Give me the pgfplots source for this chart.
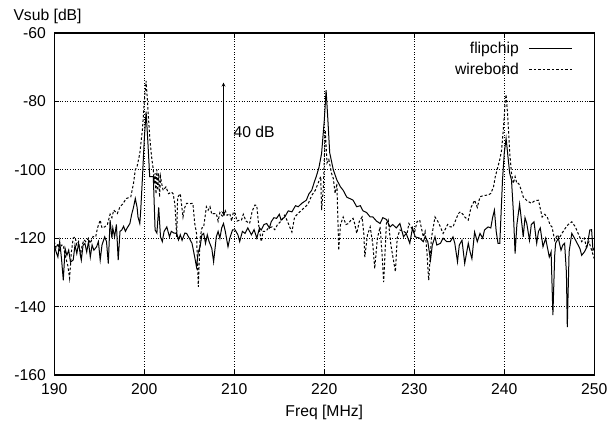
\documentclass[border=0pt]{standalone}
\usepackage{fontspec}
\setmainfont{Liberation Sans}
\usepackage{pgfplots}
\usepackage{pgfplotstable}
\pgfplotsset{compat=1.18}
\pgfplotstableread{
x y
190.0 -122
190.2 -124
190.4 -125.5
190.6 -121
190.8 -126
191.0 -132.3
191.2 -123
191.4 -125
191.6 -123.5
191.8 -127
192.1 -126.4
192.3 -122
192.5 -124.5
192.7 -121.5
193.0 -126.4
193.2 -122
193.4 -121.5
193.6 -124
193.8 -121
194.0 -125.5
194.2 -122
194.4 -123.5
194.7 -122.5
194.9 -121
195.1 -126.4
195.3 -122
195.6 -119.6
195.8 -121
196.0 -127.4
196.2 -114.7
196.4 -120
196.5 -117
196.7 -119.6
196.9 -116
197.1 -126.4
197.3 -118
197.5 -117.6
197.7 -116.5
197.9 -118
198.1 -117
198.4 -115.7
198.6 -113
198.8 -111
199.0 -108.4
199.2 -111
199.3 -113.8
199.5 -115.7
199.6 -112
199.8 -102
200.0 -91
200.2 -83
200.4 -92
200.6 -102
201.0 -102
201.2 -117.6
201.4 -118.5
201.6 -111
201.8 -119.6
202.0 -121
202.2 -118
202.5 -116.7
202.8 -119.6
203.0 -118
203.3 -118.5
203.6 -118.6
203.8 -120.5
204.0 -119
204.2 -120.6
204.5 -118.5
204.7 -118.6
205.0 -120
205.3 -121.5
205.6 -125.5
205.8 -128.4
206.0 -124
206.2 -122.5
206.4 -119
206.6 -118.6
206.8 -121.5
207.0 -119
207.2 -121
207.5 -123
207.7 -126.9
208.0 -119.6
208.2 -118
208.4 -120
208.6 -117
208.8 -115.7
209.0 -118
209.3 -122.5
209.5 -120
209.8 -117.6
210.1 -117.6
210.4 -119
210.6 -121
210.9 -118
211.2 -118.6
211.5 -117
211.9 -119
212.2 -117.5
212.5 -120
212.8 -117
213.0 -117.6
213.3 -116
213.6 -115.7
213.9 -117
214.1 -115.2
214.4 -114
214.7 -114.2
215.0 -113
215.2 -114.7
215.6 -113.8
216.0 -112
216.4 -112.3
216.8 -110.5
217.1 -110.8
217.5 -109.8
218.0 -108.9
218.3 -107
218.6 -106
218.9 -103.5
219.1 -102
219.4 -99.4
219.7 -95.2
220.0 -85.5
220.2 -76.7
220.4 -85.5
220.6 -95
221.0 -100
221.4 -103
221.8 -105
222.1 -106
222.5 -108
222.9 -108.5
223.2 -108.9
223.6 -110.8
224.0 -110.5
224.3 -112
224.7 -112.5
225.1 -113.8
225.4 -113.8
225.8 -115
226.2 -115.7
226.5 -114
226.9 -114.5
227.3 -116.7
227.6 -116
228.0 -117
228.4 -115.7
228.8 -119.6
229.1 -118.6
229.5 -121.5
229.8 -117
230.1 -119.6
230.6 -120
231.0 -121
231.2 -119.6
231.5 -121
231.8 -126.4
232.0 -122
232.3 -119.6
232.5 -122
232.9 -121.5
233.2 -120
233.6 -121
234.0 -121
234.3 -119.6
234.5 -121.5
234.8 -126.9
235.0 -122
235.3 -120.6
235.6 -127.4
236.0 -121.5
236.2 -124
236.4 -126
236.7 -118.2
237.0 -121
237.3 -118.6
237.6 -120
237.8 -117.6
238.2 -116.7
238.5 -117
238.7 -114
238.9 -111.8
239.1 -118
239.3 -121.5
239.5 -121.5
239.8 -103
240.0 -95
240.2 -90.8
240.4 -96
240.6 -101
240.8 -103
241.0 -112
241.2 -124.5
241.4 -116
241.7 -110
242.0 -117
242.1 -119.6
242.3 -114
242.5 -115.7
242.7 -119
242.8 -120.6
243.0 -116
243.3 -115.2
243.6 -121.5
243.8 -118
244.0 -117
244.3 -122.5
244.6 -120
244.7 -121.5
245.0 -125.5
245.2 -124
245.4 -142.5
245.6 -125
245.7 -121.5
246.0 -120
246.3 -123.5
246.5 -122
246.7 -121.5
246.9 -130
247.0 -146
247.2 -124
247.5 -118.6
247.8 -120
248.1 -121.5
248.4 -123
248.6 -125
248.9 -124
249.2 -122.5
249.5 -117.6
249.7 -117.5
249.85 -123.5
250.0 -123
}\flipchip
\pgfplotstableread{
x y
190.0 -121
190.2 -123
190.4 -121.5
190.6 -124
190.8 -122
191.0 -122
191.2 -125
191.5 -128
191.7 -131.7
191.9 -124
192.1 -120
192.3 -119.6
192.5 -122
192.7 -121
192.9 -125
193.1 -122
193.3 -120.5
193.5 -121
193.8 -120
194.0 -121.5
194.3 -119.5
194.6 -119.6
194.8 -117
195.1 -114.7
195.3 -117
195.6 -116.7
195.9 -116
196.2 -113
196.4 -114
196.6 -111.8
197.0 -112.8
197.3 -110.8
197.6 -110
198.0 -108.4
198.5 -107.9
198.8 -104
199.0 -100
199.2 -99
199.5 -95.2
199.8 -88
200.0 -80
200.2 -74
200.4 -82
200.6 -90.4
200.8 -96
201.0 -100
201.1 -104
201.2 -101
201.3 -107
201.4 -100
201.5 -106
201.6 -101
201.7 -108
201.8 -102
202.0 -105
202.1 -106
202.4 -105
202.7 -107
203.0 -106.5
203.2 -107
203.4 -110
203.6 -119.6
203.7 -108
204.0 -107
204.3 -113.8
204.5 -111
204.7 -109.8
204.9 -109.8
205.1 -109.9
205.4 -109.8
205.6 -115.6
205.8 -118.6
206.0 -134.2
206.2 -120
206.4 -117
206.6 -116.7
206.9 -110.8
207.1 -111.8
207.3 -110.8
207.5 -113
207.7 -112.8
208.0 -112.8
208.2 -115
208.4 -112.5
208.6 -113.3
208.8 -113.8
209.0 -112
209.2 -113.3
209.5 -112.8
209.7 -115
209.9 -112.3
210.1 -112.8
210.3 -115
210.6 -114.7
210.8 -114.7
211.0 -113
211.3 -115
211.7 -115.7
212.0 -112
212.3 -110.3
212.5 -110.5
212.7 -116
213.0 -121
213.2 -118
213.5 -118
213.8 -117
214.2 -116.7
214.5 -117.5
214.8 -116
215.2 -115
215.6 -113.3
215.9 -115
216.2 -117
216.4 -118.2
216.7 -113.8
217.0 -113
217.4 -112
217.9 -110.8
218.2 -110
218.6 -107.5
219.0 -106
219.3 -104
219.6 -102
219.7 -111.8
219.9 -105
220.1 -88.4
220.3 -98
220.5 -97
220.8 -101
221.0 -102.5
221.2 -106.9
221.4 -104
221.6 -123.5
221.8 -116
222.1 -113.8
222.4 -116
222.7 -115.7
223.0 -114.5
223.2 -114.2
223.4 -116
223.6 -118.6
223.9 -115
224.2 -113.8
224.4 -119
224.5 -125.5
224.8 -119
225.1 -116.7
225.4 -122
225.6 -128.9
225.9 -120
226.2 -116.7
226.4 -124
226.6 -132.8
226.9 -115.7
227.1 -114.7
227.4 -122
227.9 -129.8
228.1 -120
228.4 -117.6
228.8 -118
229.2 -118.6
229.4 -115.7
229.7 -117
230.0 -118.6
230.3 -115.2
230.6 -114.7
231.0 -119.6
231.2 -118
231.4 -124
231.6 -132.3
231.9 -120
232.3 -113.8
232.6 -115
232.9 -116.7
233.2 -118.6
233.4 -117.6
233.7 -116
234.0 -116.7
234.3 -116.7
234.6 -114.7
234.9 -112.8
235.1 -112.3
235.4 -113
235.6 -113.8
236.0 -114.7
236.3 -111
236.7 -108.9
237.0 -111
237.3 -107.9
237.7 -107.5
238.2 -107.4
238.5 -106.9
238.8 -105
239.0 -102
239.3 -99
239.5 -97
239.7 -94.2
239.9 -88
240.1 -80
240.2 -78
240.4 -85
240.6 -95
240.8 -101
241.0 -104
241.2 -102
241.4 -104
241.6 -104
241.9 -106
242.1 -107.9
242.5 -109
243.0 -109.8
243.4 -109
243.8 -108.9
244.2 -113.8
244.5 -113
244.8 -114
245.1 -116.2
245.3 -116.7
245.6 -120.6
245.9 -119
246.1 -120
246.4 -118.6
246.8 -117
247.1 -116
247.5 -115.2
247.9 -116.7
248.2 -118.6
248.6 -121
248.9 -120
249.1 -122.5
249.4 -121
249.7 -123.5
250.0 -126
}\wirebond
\begin{document}
\begin{tikzpicture}[font=\fontsize{15.7bp}{18bp}\selectfont, >=stealth]
\begin{axis}[
  at={(54.3bp,56bp)}, anchor=south west,
  scale only axis, width=540bp, height=342bp,
  xmin=190, xmax=250, ymin=-160, ymax=-60,
  xtick={190,200,...,250}, ytick={-160,-140,...,-60},
  grid=major,
  grid style={black, line width=0.6bp, dash pattern=on 1bp off 1.6bp},
  tick align=inside, major tick length=5bp,
  tick style={black, line width=0.8bp},
  axis line style={line width=1.5bp},
  /pgf/number format/assume math mode=true,
  /pgf/number format/1000 sep={},
  xticklabel style={yshift=-5bp},
  yticklabel style={xshift=-5bp},
  xlabel={Freq [MHz]},
  xlabel style={at={(axis description cs:0.5,0)}, anchor=center, yshift=-37bp},
  ylabel={Vsub [dB]},
  ylabel style={rotate=-90, at={(axis description cs:0,1)}, anchor=west, xshift=-44.3bp, yshift=17bp},
  legend style={draw=none, fill=none, at={(rel axis cs:0.966,0.985)}, anchor=north east,
    font=\fontsize{15.7bp}{18bp}\selectfont, row sep=4bp,
    /tikz/every odd column/.style={column sep=8bp}},
  legend cell align=right,
  legend plot pos=right,
  legend image code/.code={\draw[#1] (0bp,0bp) -- (43bp,0bp);},
]
\addplot[black, line width=1bp] table[x=x,y=y] {\flipchip};
\addlegendentry{flipchip}
\addplot[black, line width=1bp, dash pattern=on 2.5bp off 2bp] table[x=x,y=y] {\wirebond};
\addlegendentry{wirebond}
\draw[<->, line width=0.8bp] (axis cs:208.8,-113.3) -- (axis cs:208.8,-74.5);
\node[anchor=west, inner sep=0pt] at (axis cs:209.9,-89) {40 dB};
\end{axis}
\pgfresetboundingbox
\path[use as bounding box] (0,0) rectangle (608bp,431bp);
\end{tikzpicture}
\end{document}
